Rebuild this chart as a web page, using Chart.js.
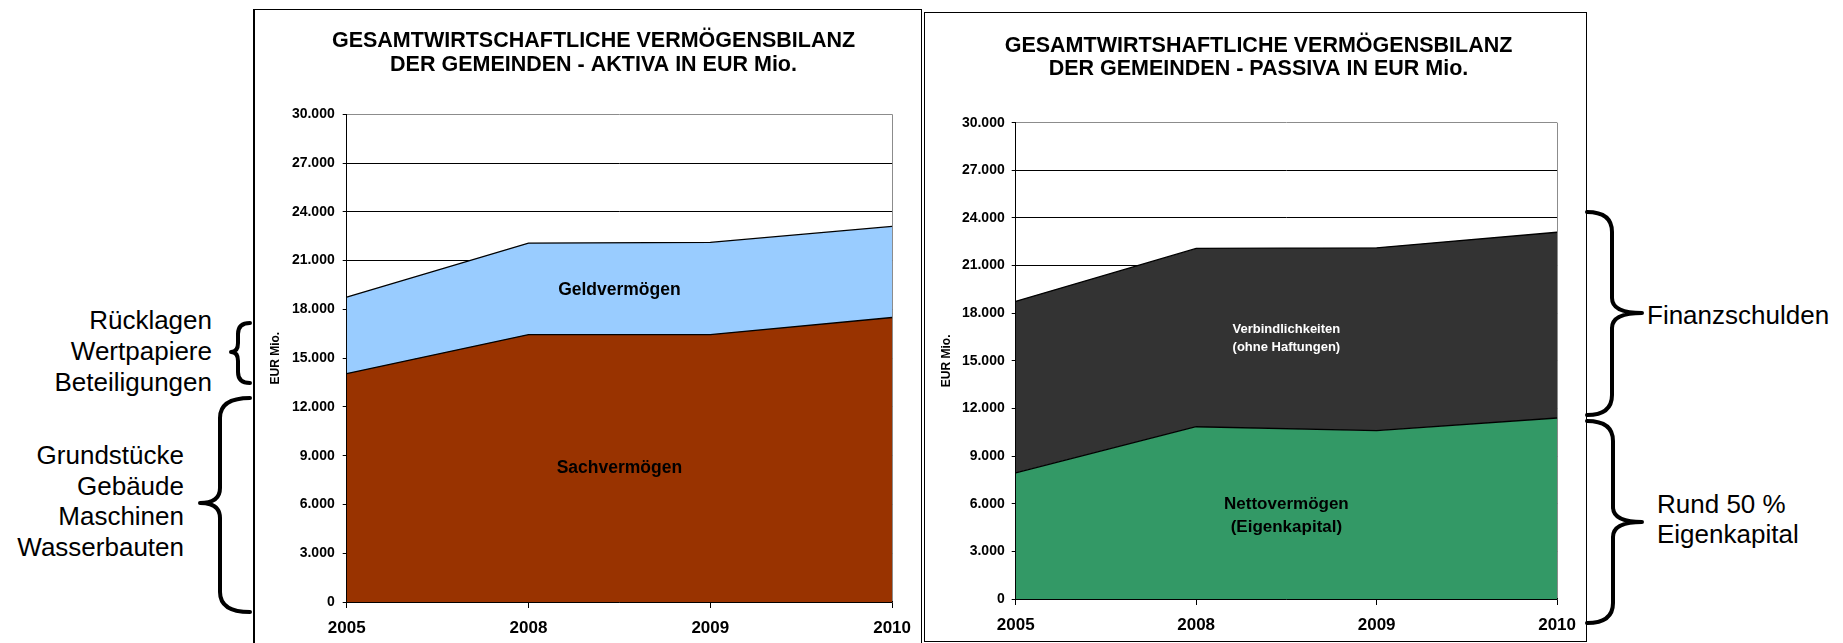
<!DOCTYPE html>
<html>
<head>
<meta charset="utf-8">
<script src="https://cdn.jsdelivr.net/npm/chart.js@4"></script>
<style>
html,body{margin:0;padding:0;background:#fff;width:1843px;height:643px;overflow:hidden;position:relative;font-family:"Liberation Sans",Arial,sans-serif}
.box{position:absolute;box-sizing:border-box;border:1px solid #000}
#boxL{left:253px;top:9px;width:669px;height:650px;border-left-width:2px}
#boxR{left:924px;top:12px;width:663px;height:630px}
canvas{position:absolute}
#cL{left:254px;top:10px}
#cR{left:925px;top:13px}
.note{position:absolute;font-size:26px;color:#000;white-space:nowrap}
svg{position:absolute;left:0;top:0}
</style>
</head>
<body>
<div class="box" id="boxL"></div>
<div class="box" id="boxR"></div>
<canvas id="cL" width="667" height="633"></canvas>
<canvas id="cR" width="661" height="628"></canvas>

<div class="note" style="left:0;width:212px;top:305px;line-height:31px;text-align:right">Rücklagen<br>Wertpapiere<br>Beteiligungen</div>
<div class="note" style="left:0;width:184px;top:440px;line-height:30.5px;text-align:right">Grundstücke<br>Gebäude<br>Maschinen<br>Wasserbauten</div>
<div class="note" style="left:1647px;top:300px;line-height:30px">Finanzschulden</div>
<div class="note" style="left:1657px;top:488.5px;line-height:30px">Rund 50 %<br>Eigenkapital</div>

<svg width="1843" height="643" viewBox="0 0 1843 643">
  <g fill="none" stroke="#000" stroke-width="4" stroke-linecap="round" stroke-linejoin="round">
    <path d="M250 323 Q238 323 238 334 L238 343 Q238 352 231 352 Q238 352 238 361 L238 372 Q238 383 250 383"/>
    <path d="M250 398 Q220 398 220 418 L220 488 Q220 503 200 503 Q220 503 220 518 L220 592 Q220 612 250 612"/>
    <path d="M1587 212 Q1612 212 1612 232 L1612 298 Q1612 313 1642 313 Q1612 313 1612 328 L1612 395 Q1612 415 1587 415"/>
    <path d="M1587 421 Q1613 421 1613 441 L1613 507 Q1613 522 1642 522 Q1613 522 1613 537 L1613 603 Q1613 623 1587 623"/>
  </g>
</svg>

<script>
// ---- data ----
const years = ['2005', '2008', '2009', '2010'];
const sachvermoegen = [14050, 16450, 16450, 17500];
const geldvermoegen = [4700, 5630, 5670, 5600];
const nettovermoegen = [7950, 10850, 10600, 11400];
const verbindlichkeiten = [10800, 11230, 11520, 11700];
const yTickLabels = ['0', '3.000', '6.000', '9.000', '12.000', '15.000', '18.000', '21.000', '24.000', '27.000', '30.000'];

const FONT = '"Liberation Sans", Arial, sans-serif';
Chart.defaults.font.family = FONT;
Chart.defaults.color = '#000';

const areaLabels = {
  id: 'areaLabels',
  afterDatasetsDraw(chart, args, opts) {
    const ctx = chart.ctx;
    const ca = chart.chartArea;
    const y = chart.scales.y;
    ctx.save();
    ctx.textAlign = 'center';
    ctx.textBaseline = 'middle';
    (opts.items || []).forEach(it => {
      ctx.font = 'bold ' + it.size + 'px ' + FONT;
      ctx.fillStyle = it.color;
      ctx.fillText(it.text, (ca.left + ca.right) / 2, y.getPixelForValue(it.value));
    });
    ctx.restore();
  }
};

function makeChart(id, title, datasets, geo, items) {
  return new Chart(document.getElementById(id), {
    type: 'line',
    data: { labels: years, datasets },
    plugins: [areaLabels],
    options: {
      responsive: false,
      animation: false,
      devicePixelRatio: 1,
      layout: { padding: { left: geo.padLeft, right: 0, top: 0, bottom: 0 } },
      elements: { point: { radius: 0 }, line: { tension: 0, borderWidth: 1.3, borderColor: '#000' } },
      plugins: {
        legend: { display: false },
        tooltip: { enabled: false },
        title: {
          display: true,
          text: title,
          color: '#000',
          font: { size: 21.5, weight: 'bold', lineHeight: 1.1 },
          padding: { top: geo.titleTop, bottom: geo.titleBottom }
        },
        areaLabels: { items }
      },
      scales: {
        x: {
          type: 'category',
          offset: false,
          afterFit: s => { s.height = geo.xHeight; },
          grid: {
            color: c => c.index === years.length - 1 ? '#8c8c8c' : 'rgba(0,0,0,0)',
            tickColor: '#000',
            tickLength: 6,
            lineWidth: 1
          },
          border: { color: '#000', width: 1.5 },
          ticks: { font: { size: 17, weight: 'bold' }, padding: 10, maxRotation: 0, autoSkip: false }
        },
        y: {
          stacked: true,
          min: 0,
          max: 30000,
          afterFit: s => { s.width = geo.yWidth; },
          ticks: {
            stepSize: 3000,
            font: { size: 14, weight: 'bold' },
            padding: geo.yPad,
            callback: (v, i) => yTickLabels[i]
          },
          grid: {
            color: c => (c.tick && c.tick.value === 30000) ? '#8c8c8c' : '#000',
            tickColor: '#000',
            tickLength: 4,
            lineWidth: 1
          },
          border: { color: '#000', width: 1 },
          title: {
            display: true,
            text: 'EUR Mio.',
            font: { size: 12, weight: 'bold' },
            padding: { top: geo.yTitlePad, bottom: 0 }
          }
        },
        spacer: {
          type: 'linear',
          position: 'right',
          display: true,
          afterFit: s => { s.width = geo.padRight; },
          grid: { display: false, drawTicks: false },
          ticks: { display: false },
          border: { display: false }
        }
      }
    }
  });
}

makeChart('cL',
  ['GESAMTWIRTSCHAFTLICHE VERMÖGENSBILANZ', 'DER GEMEINDEN - AKTIVA IN EUR Mio.'],
  [
    { label: 'Sachvermögen', data: sachvermoegen, backgroundColor: '#993300', fill: 'origin' },
    { label: 'Geldvermögen', data: geldvermoegen, backgroundColor: '#99CCFF', fill: '-1' }
  ],
  { padLeft: 12, padRight: 21.7, titleTop: 19.7, titleBottom: 37.3, xHeight: 41, yWidth: 80.7, yPad: 8, yTitlePad: 2.8 },
  [
    { text: 'Geldvermögen', value: 19190, color: '#000', size: 17.5 },
    { text: 'Sachvermögen', value: 8220, color: '#000', size: 17.5 }
  ]
);

makeChart('cR',
  ['GESAMTWIRTSHAFTLICHE VERMÖGENSBILANZ', 'DER GEMEINDEN - PASSIVA IN EUR Mio.'],
  [
    { label: 'Nettovermögen (Eigenkapital)', data: nettovermoegen, backgroundColor: '#339966', fill: 'origin' },
    { label: 'Verbindlichkeiten (ohne Haftungen)', data: verbindlichkeiten, backgroundColor: '#333333', fill: '-1' }
  ],
  { padLeft: 6, padRight: 22, titleTop: 20.8, titleBottom: 41.6, xHeight: 42, yWidth: 84.7, yPad: 7, yTitlePad: 8.8 },
  [
    { text: 'Verbindlichkeiten', value: 16950, color: '#fff', size: 13 },
    { text: '(ohne Haftungen)', value: 15850, color: '#fff', size: 13 },
    { text: 'Nettovermögen', value: 5960, color: '#000', size: 17 },
    { text: '(Eigenkapital)', value: 4500, color: '#000', size: 17 }
  ]
);
</script>
</body>
</html>
